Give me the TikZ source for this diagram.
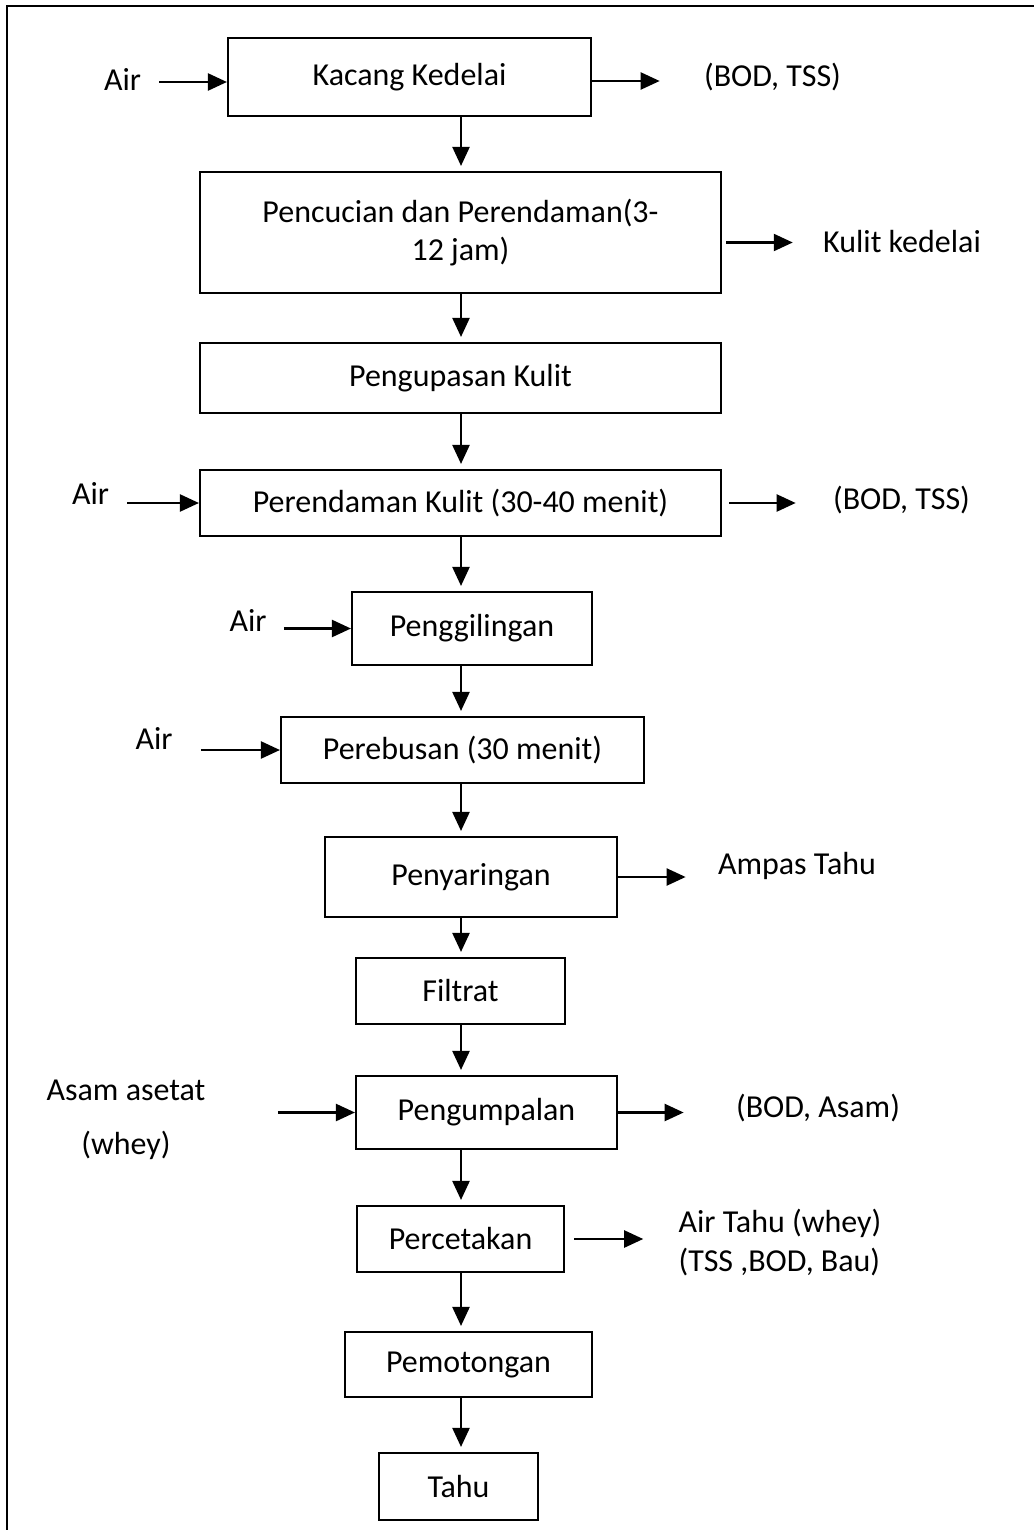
\documentclass[tikz,border=0pt]{standalone}
\usepackage{fontspec}
\setmainfont{Carlito}
\usetikzlibrary{arrows.meta}

\begin{document}
\begin{tikzpicture}[
        font=\fontsize{9.1}{11}\selectfont,
        prosesbox/.style={draw, line width=0.6pt, inner sep=0pt},
        panah/.style={-{Triangle[length=0.19cm, width=0.17cm]}, line width=0.65pt}
    ]
        \useasboundingbox (0,0) rectangle (10.33,-15.30);
        \draw[line width=0.7pt](0.07,-15.50) --(0.07,-0.06) --(10.50,-0.06);
        \coordinate (sumbu) at (4.61,0);

        % proses utama
        \node (kacang) at (4.095,-0.77)[prosesbox, minimum width=3.63cm, minimum height=0.78cm]{Kacang Kedelai};
        \node (cuci) at (4.605,-2.325)[prosesbox, minimum width=5.21cm, minimum height=1.21cm, align=center]{Pencucian dan Perendaman(3-\\12 jam)};
        \node (kupas) at (4.605,-3.78)[prosesbox, minimum width=5.21cm, minimum height=0.70cm]{Pengupasan Kulit};
        \node (rendam) at (4.605,-5.03)[prosesbox, minimum width=5.21cm, minimum height=0.66cm]{Perendaman Kulit (30-40 menit)};
        \node (giling) at (4.72,-6.285)[prosesbox, minimum width=2.40cm, minimum height=0.73cm]{Penggilingan};
        \node (rebus) at (4.625,-7.50)[prosesbox, minimum width=3.63cm, minimum height=0.66cm]{Perebusan (30 menit)};
        \node (saring) at (4.71,-8.77)[prosesbox, minimum width=2.92cm, minimum height=0.80cm]{Penyaringan};
        \node (filtrat) at (4.605,-9.91)[prosesbox, minimum width=2.09cm, minimum height=0.66cm]{Filtrat};
        \node (kumpal) at (4.865,-11.125)[prosesbox, minimum width=2.61cm, minimum height=0.73cm]{Pengumpalan};
        \node (cetak) at (4.605,-12.39)[prosesbox, minimum width=2.07cm, minimum height=0.66cm]{Percetakan};
        \node (potong) at (4.685,-13.645)[prosesbox, minimum width=2.47cm, minimum height=0.65cm]{Pemotongan};
        \node (tahu) at (4.585,-14.865)[prosesbox, minimum width=1.59cm, minimum height=0.67cm]{Tahu};

        % masukan
        \node (air1) at (1.225,-0.80){Air};
        \node (air2) at (0.905,-4.93){Air};
        \node (air3) at (2.48,-6.20){Air};
        \node (air4) at (1.54,-7.38){Air};
        \node (asam) at (1.26,-11.20)[align=center]{Asam asetat\\[0.15cm](whey)};

        % keluaran
        \node (bod1) at (7.725,-0.77){(BOD, TSS)};
        \node (kulit) at (9.02,-2.42){Kulit kedelai};
        \node (bod2) at (9.015,-5.00){(BOD, TSS)};
        \node (ampas) at (7.97,-8.66){Ampas Tahu};
        \node (bod3) at (8.18,-11.08){(BOD, Asam)};
        \node (whey) at (7.80,-12.425)[align=left]{Air Tahu (whey)\\(TSS ,BOD, Bau)};

        % alur ke bawah
        \foreach \a/\b in {kacang/cuci, cuci/kupas, kupas/rendam, rendam/giling, giling/rebus,
                rebus/saring, saring/filtrat, filtrat/kumpal, kumpal/cetak, cetak/potong, potong/tahu}
            \draw[panah, shorten >=0.05cm](\a.south -| sumbu) --(\b.north -| sumbu);

        % panah masuk
        \draw[panah, shorten <=0.06cm]([yshift=-0.05cm]air1.east |- kacang.west) --([yshift=-0.05cm]kacang.west);
        \draw[panah, shorten <=0.06cm](air2.east |- rendam.west) --(rendam.west);
        \draw[panah, shorten <=0.05cm](air3.east |- giling.west) --(giling.west);
        \draw[panah, shorten <=0.16cm](air4.east |- rebus.west) --(rebus.west);
        \draw[panah, shorten <=0.60cm](asam.east |- kumpal.west) --(kumpal.west);

        % panah keluar
        \draw[panah, shorten >=0.32cm]([yshift=-0.04cm]kacang.east) --([yshift=-0.04cm]kacang.east -| bod1.west);
        \draw[panah, shorten <=0.04cm, shorten >=0.18cm]([yshift=-0.10cm]cuci.east) --([yshift=-0.10cm]cuci.east -| kulit.west);
        \draw[panah, shorten <=0.07cm, shorten >=0.25cm](rendam.east) --(rendam.east -| bod2.west);
        \draw[panah, shorten >=0.20cm](saring.east) --(saring.east -| ampas.west);
        \draw[panah, shorten >=0.40cm](kumpal.east) --(kumpal.east -| bod3.west);
        \draw[panah, shorten <=0.09cm, shorten >=0.23cm](cetak.east) --(cetak.east -| whey.west);

    \end{tikzpicture}
\end{document}
